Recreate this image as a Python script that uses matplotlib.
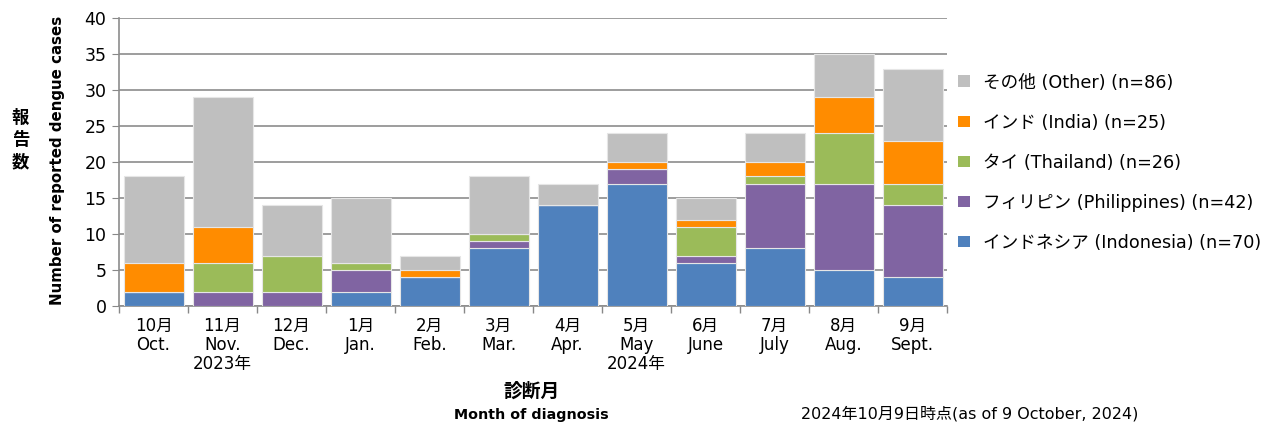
import numpy as np
import matplotlib.pyplot as plt
from matplotlib.patches import Patch

plt.rcParams['font.family'] = ['DejaVu Sans', 'Noto Sans CJK JP']

months = ["10月\nOct.", "11月\nNov.\n2023年", "12月\nDec.", "1月\nJan.", "2月\nFeb.",
          "3月\nMar.", "4月\nApr.", "5月\nMay\n2024年", "6月\nJune", "7月\nJuly",
          "8月\nAug.", "9月\nSept."]

indonesia = [2, 0, 0, 2, 4, 8, 14, 17, 6, 8, 5, 4]
philippines = [0, 2, 2, 3, 0, 1, 0, 2, 1, 9, 12, 10]
thailand = [0, 4, 5, 1, 0, 1, 0, 0, 4, 1, 7, 3]
india = [4, 5, 0, 0, 1, 0, 0, 1, 1, 2, 5, 6]
other = [12, 18, 7, 9, 2, 8, 3, 4, 3, 4, 6, 10]

series = [
    ("インドネシア (Indonesia) (n=70)", indonesia, "#4F81BD"),
    ("フィリピン (Philippines) (n=42)", philippines, "#8064A2"),
    ("タイ (Thailand) (n=26)", thailand, "#9BBB59"),
    ("インド (India) (n=25)", india, "#FF8C00"),
    ("その他 (Other) (n=86)", other, "#BFBFBF"),
]

fig = plt.figure(figsize=(12.69, 4.23), dpi=100)
ax = fig.add_axes([0.0938, 0.2766, 0.6525, 0.6804])

x = np.arange(len(months))
bottom = np.zeros(len(months))
handles = []
for name, vals, col in series:
    ax.bar(x, vals, width=0.87, bottom=bottom, color=col, edgecolor="#e6e6e6",
           linewidth=0.8, zorder=3)
    bottom += np.array(vals)
    handles.append(Patch(facecolor=col, edgecolor="none", label=name))

ax.set_xlim(-0.5, len(months) - 0.5)
ax.set_ylim(0, 40)
ax.set_yticks(range(0, 41, 5))
ax.tick_params(axis='y', labelsize=12.5, direction='out', length=5, color='#888888', pad=4)
ax.grid(axis='y', color='#8c8c8c', linewidth=1.2, zorder=0)

ax.set_xticks(x)
ax.set_xticklabels(months, fontsize=12, linespacing=1.05)
ax.tick_params(axis='x', length=0, pad=8)
ax.set_xticks(np.arange(-0.5, len(months), 1), minor=True)
ax.tick_params(axis='x', which='minor', direction='out', length=5, color='#888888', width=1)

for s in ['top', 'right']:
    ax.spines[s].set_visible(False)
for s in ['left', 'bottom']:
    ax.spines[s].set_color('#8c8c8c')
    ax.spines[s].set_linewidth(1.2)

# y axis labels (vertical Japanese, one char per line)
for i, ch in enumerate("報告数"):
    fig.text(0.016, 0.721 - i * 0.052, ch, fontsize=12.5, fontweight='bold',
             family=['Noto Sans CJK JP'], ha='center', va='center')
fig.text(0.045, 0.622, "Number of reported dengue cases", fontsize=10.8, fontweight='bold',
         rotation=90, ha='center', va='center')

# x axis labels
fig.text(0.419, 0.075, "診断月", fontsize=13.5, fontweight='bold', ha='center', va='center')
fig.text(0.419, 0.020, "Month of diagnosis", fontsize=10.3, fontweight='bold', ha='center', va='center')
fig.text(0.631, 0.003, "2024年10月9日時点(as of 9 October, 2024)", fontsize=11.5, ha='left', va='bottom')

ax.legend(handles=handles[::-1], loc='center left', bbox_to_anchor=(1.005, 0.498),
          frameon=False, fontsize=12.7, handlelength=0.65, handleheight=0.65,
          handletextpad=0.75, labelspacing=1.25, borderaxespad=0)

fig.savefig("out.png", dpi=100)
